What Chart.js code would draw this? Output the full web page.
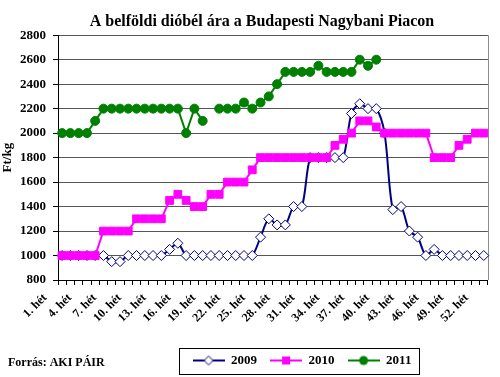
<!DOCTYPE html>
<html>
<head>
<meta charset="utf-8">
<script src="https://cdn.jsdelivr.net/npm/chart.js@4.4.0/dist/chart.umd.min.js"></script>
<style>
  body { margin: 0; background: #fff; }
  canvas { display: block; }
</style>
</head>
<body>
<canvas id="myChart" width="500" height="377"></canvas>
<script>
// weekly prices, Ft/kg
const weekLabels = Array.from({ length: 52 }, (_, i) => (i + 1) + ". hét");

const prices2009 = [1000, 1000, 1000, 1000, 1000, 1000, 950, 950, 1000, 1000,
  1000, 1000, 1000, 1050, 1100, 1000, 1000, 1000, 1000, 1000,
  1000, 1000, 1000, 1000, 1150, 1300, 1250, 1250, 1400, 1400,
  1800, 1800, 1800, 1800, 1800, 2160, 2240, 2200, 2200, 2000,
  1375, 1400, 1200, 1150, 1000, 1050, 1000, 1000, 1000, 1000,
  1000, 1000];

const prices2010 = [1000, 1000, 1000, 1000, 1000, 1200, 1200, 1200, 1200, 1300,
  1300, 1300, 1300, 1450, 1500, 1450, 1400, 1400, 1500, 1500,
  1600, 1600, 1600, 1700, 1800, 1800, 1800, 1800, 1800, 1800,
  1800, 1800, 1800, 1900, 1950, 2000, 2100, 2100, 2050, 2000,
  2000, 2000, 2000, 2000, 2000, 1800, 1800, 1800, 1900, 1950,
  2000, 2000];

const prices2011 = [2000, 2000, 2000, 2000, 2100, 2200, 2200, 2200, 2200, 2200,
  2200, 2200, 2200, 2200, 2200, 2000, 2200, 2100, null, 2200,
  2200, 2200, 2250, 2200, 2250, 2300, 2400, 2500, 2500, 2500,
  2500, 2550, 2500, 2500, 2500, 2500, 2600, 2550, 2600, null,
  null, null, null, null, null, null, null, null, null, null,
  null, null];

const yTicks = { min: 800, max: 2800, step: 200 };

const serif = "'Liberation Serif', 'Times New Roman', serif";

// legend icons: line with marker in the middle
function legendIcon(color, shape, fill) {
  const c = document.createElement("canvas");
  c.width = 32; c.height = 12;
  const g = c.getContext("2d");
  g.strokeStyle = color; g.lineWidth = 2;
  g.beginPath(); g.moveTo(0, 6); g.lineTo(32, 6); g.stroke();
  g.fillStyle = fill; g.lineWidth = 1;
  g.beginPath();
  if (shape == "diamond") {
    g.moveTo(16, 1.5); g.lineTo(20.5, 6); g.lineTo(16, 10.5); g.lineTo(11.5, 6); g.closePath();
    g.fill(); g.stroke();
  } else if (shape == "square") {
    g.rect(12, 2, 8, 8); g.fill();
  } else {
    g.arc(16, 6, 4.5, 0, Math.PI * 2); g.fill();
  }
  return c;
}
const icons = [
  legendIcon("#000080", "diamond", "#ffffff"),
  legendIcon("#ff00ff", "square", "#ff00ff"),
  legendIcon("#008000", "circle", "#008000"),
];

const extras = {
  id: "extras",
  afterLayout(chart) {
    chart.legend.left += 56; chart.legend.right += 56;
    chart.titleBlock.left += 16; chart.titleBlock.right += 16;
  },
  beforeDatasetsDraw(chart) {
    const ctx = chart.ctx, a = chart.chartArea;
    ctx.save();
    ctx.strokeStyle = "#8c8c8c"; ctx.lineWidth = 1;
    ctx.beginPath(); ctx.moveTo(Math.round(a.right) + 0.5, a.top); ctx.lineTo(Math.round(a.right) + 0.5, a.bottom); ctx.stroke();
    ctx.restore();
  },
  afterDraw(chart) {
    const ctx = chart.ctx, lg = chart.legend;
    const pad = lg.options.labels.padding;
    const lw = lg.lineWidths[0];
    const start = (lg.left + pad + lg.right - lw) / 2;
    const cy = lg.top + pad + 6.5;
    ctx.save();
    ctx.strokeStyle = "#000"; ctx.lineWidth = 1;
    ctx.strokeRect(Math.round(start - 14) + 0.5, Math.round(cy - 13) + 0.5, Math.round(lw - pad + 21), 26);
    ctx.font = "bold 12px " + serif; ctx.fillStyle = "#000"; ctx.textBaseline = "middle";
    ctx.fillText("Forrás: AKI PÁIR", 8, 363);
    ctx.restore();
  }
};

new Chart(document.getElementById("myChart").getContext("2d"), {
  type: "line",
  data: {
    labels: weekLabels,
    datasets: [
      {
        label: "2009",
        data: prices2009,
        order: 3,
        borderColor: "#000080",
        borderWidth: 2,
        tension: 0.3,
        pointStyle: "rectRot",
        pointRadius: 5,
        pointBackgroundColor: "#ffffff",
        pointBorderColor: "#000080",
        pointBorderWidth: 1,
      },
      {
        label: "2010",
        data: prices2010,
        order: 1,
        borderColor: "#ff00ff",
        borderWidth: 2,
        pointStyle: "rect",
        pointRadius: 5.5,
        pointBackgroundColor: "#ff00ff",
        pointBorderColor: "#ff00ff",
        pointBorderWidth: 1,
      },
      {
        label: "2011",
        data: prices2011,
        order: 2,
        borderColor: "#008000",
        borderWidth: 2,
        pointStyle: "circle",
        pointRadius: 4.5,
        pointBackgroundColor: "#008000",
        pointBorderColor: "#008000",
        pointBorderWidth: 1,
      },
    ],
  },
  options: {
    responsive: false,
    animation: false,
    devicePixelRatio: 1,
    spanGaps: false,
    layout: { padding: { left: 0, right: 8, top: 0, bottom: 0 } },
    plugins: {
      tooltip: { enabled: false },
      title: {
        display: true,
        text: "A belföldi dióbél ára a Budapesti Nagybani Piacon",
        color: "#000",
        font: { family: serif, size: 16, weight: "bold" },
        padding: { top: 12, bottom: 4 },
      },
      legend: {
        position: "bottom",
        labels: {
          color: "#000",
          font: { family: serif, size: 13, weight: "bold" },
          usePointStyle: true,
          pointStyleWidth: 32,
          padding: 13,
          sort: (a, b) => a.datasetIndex - b.datasetIndex,
          generateLabels: (chart) => {
            const items = Chart.defaults.plugins.legend.labels.generateLabels(chart);
            items.forEach((it) => { it.pointStyle = icons[it.datasetIndex]; });
            return items;
          },
        },
      },
    },
    scales: {
      x: {
        offset: true,
        afterFit: (scale) => { scale.height = 61; },
        grid: { display: true, offset: true, drawOnChartArea: false, tickLength: 5, color: "#000", tickColor: "#000" },
        border: { color: "#000" },
        ticks: {
          autoSkip: false,
          maxRotation: 45,
          minRotation: 45,
          labelOffset: -17,
          padding: 6,
          color: "#000",
          font: { family: serif, size: 12, weight: "bold" },
          callback: (value, index) => (index % 3 == 0 ? weekLabels[index] : ""),
        },
      },
      y: {
        min: yTicks.min,
        max: yTicks.max,
        afterFit: (scale) => { scale.width = 58; },
        grid: { color: "#555", tickLength: 5, tickColor: "#000" },
        border: { color: "#000" },
        title: {
          display: true,
          text: "Ft/kg",
          color: "#000",
          font: { family: serif, size: 13, weight: "bold" },
          padding: 0,
        },
        ticks: {
          stepSize: yTicks.step,
          padding: 7,
          color: "#000",
          font: { family: serif, size: 13, weight: "bold" },
          callback: (value) => String(value),
        },
      },
    },
  },
  plugins: [extras],
});
</script>
</body>
</html>
